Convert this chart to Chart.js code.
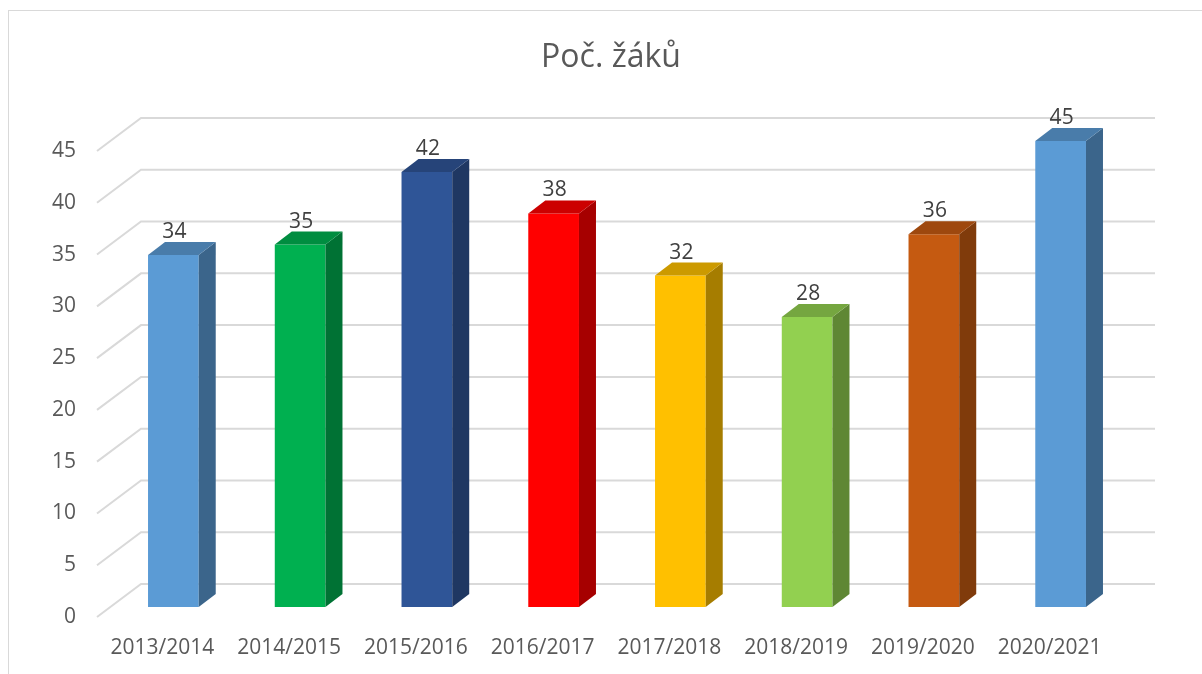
<!DOCTYPE html>
<html lang="cs">
<head>
<meta charset="UTF-8">
<title>Poč. žáků</title>
<script src="https://cdn.jsdelivr.net/npm/chart.js@4.4.1/dist/chart.umd.min.js"></script>
<style>
    html, body { margin: 0; padding: 0; background: #fff; overflow: hidden; }
    #wrap { position: relative; width: 1202px; height: 674px; }
    #khung { position: absolute; left: 8px; top: 10px; width: 1300px; height: 800px; border: 1.5px solid #d9d9d9; }
    #zakyChart { position: absolute; left: 0; top: 0; }
</style>
</head>
<body>
<div id="wrap">
    <div id="khung"></div>
    <canvas id="zakyChart" width="1202" height="674"></canvas>
</div>
<script>
// Dữ liệu biểu đồ
const nazevGrafu = 'Poč. žáků';
const skolniRoky = ['2013/2014', '2014/2015', '2015/2016', '2016/2017', '2017/2018', '2018/2019', '2019/2020', '2020/2021'];
const pocetZaku = [34, 35, 42, 38, 32, 28, 36, 45];
const osaYMin = 0;
const osaYMax = 45;
const osaYKrok = 5;

// Màu mặt trước, mặt trên, mặt bên của từng cột
const barvyCelo = ['#5B9BD5', '#00B050', '#2F5597', '#FF0000', '#FFC000', '#92D050', '#C55A11', '#5B9BD5'];
const barvyVrch = ['#497CAA', '#008D40', '#264479', '#CC0000', '#CC9A00', '#75A640', '#9E480E', '#497CAA'];
const barvyBok  = ['#3B658B', '#007234', '#1F3762', '#A60000', '#A67D00', '#5F8734', '#803B0B', '#3B658B'];

const pismo = 'Open Sans';

// Plugin vẽ hiệu ứng 3D (lưới nghiêng, mặt bên, mặt trên, nhãn giá trị)
const khoi3D = {
    id: 'khoi3D',
    beforeDatasetsDraw(chart) {
        const ctx = chart.ctx;
        const area = chart.chartArea;
        const y = chart.scales.y;
        ctx.save();
        ctx.strokeStyle = '#d9d9d9';
        ctx.lineWidth = 2;
        y.ticks.forEach(t => {
            const py = y.getPixelForValue(t.value);
            ctx.beginPath();
            ctx.moveTo(area.left - 13, py + 10);
            ctx.lineTo(area.left + 31, py - 23);
            ctx.lineTo(area.right + 31, py - 23);
            ctx.stroke();
        });
        ctx.restore();
    },
    afterDatasetsDraw(chart) {
        const ctx = chart.ctx;
        const meta = chart.getDatasetMeta(0);
        const hx = 17, hy = 13;
        ctx.save();
        meta.data.forEach((bar, i) => {
            const p = bar.getProps(['x', 'y', 'base', 'width'], true);
            const l = p.x - p.width / 2;
            const r = p.x + p.width / 2;

            // mặt bên
            ctx.fillStyle = barvyBok[i];
            ctx.beginPath();
            ctx.moveTo(r, p.y);
            ctx.lineTo(r + hx, p.y - hy);
            ctx.lineTo(r + hx, p.base - hy);
            ctx.lineTo(r, p.base);
            ctx.closePath();
            ctx.fill();

            // mặt trên
            ctx.fillStyle = barvyVrch[i];
            ctx.beginPath();
            ctx.moveTo(l, p.y);
            ctx.lineTo(r, p.y);
            ctx.lineTo(r + hx, p.y - hy);
            ctx.lineTo(l + hx, p.y - hy);
            ctx.closePath();
            ctx.fill();

            // nhãn giá trị
            ctx.fillStyle = '#404040';
            ctx.font = '21px "' + pismo + '"';
            ctx.textAlign = 'center';
            ctx.textBaseline = 'alphabetic';
            ctx.fillText(String(pocetZaku[i]), p.x + 1, p.y - hy - 4);
        });
        ctx.restore();
    }
};

new Chart(document.getElementById('zakyChart'), {
    type: 'bar',
    data: {
        labels: skolniRoky,
        datasets: [{
            data: pocetZaku,
            backgroundColor: barvyCelo,
            borderWidth: 0,
            categoryPercentage: 1,
            barPercentage: 0.4
        }]
    },
    options: {
        responsive: false,
        animation: false,
        layout: { padding: { left: 20, right: 0, top: 0, bottom: 0 } },
        plugins: {
            legend: { display: false },
            tooltip: { enabled: false },
            title: {
                display: true,
                text: nazevGrafu,
                color: '#595959',
                font: { family: pismo, size: 32, weight: 'normal' },
                padding: { top: 39, bottom: 63.6 }
            }
        },
        scales: {
            x: {
                grid: { display: false, drawTicks: false },
                border: { display: false },
                ticks: {
                    color: '#595959',
                    font: { family: pismo, size: 21 },
                    labelOffset: -11,
                    padding: 28,
                    maxRotation: 0,
                    autoSkip: false
                },
                afterFit: s => { s.height = 67; }
            },
            y: {
                min: osaYMin,
                max: osaYMax,
                grid: { display: false, drawTicks: false },
                border: { display: false },
                ticks: {
                    stepSize: osaYKrok,
                    color: '#595959',
                    font: { family: pismo, size: 21 },
                    padding: 34,
                    labelOffset: 10
                },
                afterFit: s => { s.width = 90; }
            },
            // trục phụ bên phải chỉ để giữ khoảng trống
            y2: {
                type: 'linear',
                position: 'right',
                grid: { display: false, drawTicks: false },
                border: { display: false },
                ticks: { display: false },
                afterFit: s => { s.width = 78; }
            }
        }
    },
    plugins: [khoi3D]
});
</script>
</body>
</html>
